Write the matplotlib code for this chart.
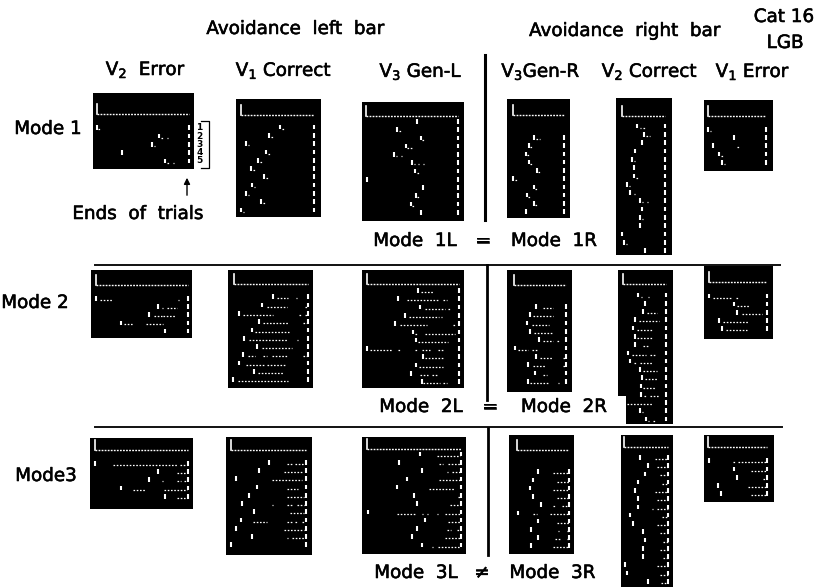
import matplotlib
matplotlib.use('Agg')
import matplotlib.pyplot as plt
import matplotlib.patheffects as pe
from matplotlib.patches import Rectangle

plt.rcParams['font.family'] = ['DejaVu Sans']
plt.rcParams['mathtext.fontset'] = 'dejavusans'
plt.rcParams['mathtext.default'] = 'regular'

W, H = 823, 587

# onset = response latency per trial, runs = later responses (start, end) per trial
m1_v2err_onset = [0, 62, 55, 25, 68]
m1_v2err_runs = [[(1, 3)], [(64, 66), (70, 71)], [(57, 58)], [], [(70, 73), (76, 77)]]
m1_v1cor_onset = [39.3, 28.7, 5.3, 25.3, 17.7, 10.3, 23.3, 11, 5, 20.3, 0]
m1_v1cor_runs = [[(41, 43)], [(30, 32)], [(7, 8)], [(27, 29)], [(19, 21)], [(12, 14)],
                 [(25, 27)], [(13, 14)], [(7, 8)], [(22, 24)], [(2, 3)]]
m1_v3l_onset = [51.3, 31.3, 54.7, 39.7, 28.3, 46.3, 49.3, 0.7, 57.3, 49.7, 44.7, 55]
m1_v3l_runs = [[], [(33, 35)], [(56, 58)], [(41, 46)], [(30, 31), (35, 36)],
               [(48, 49), (52, 53), (57, 58)], [(51, 53)], [], [], [(51, 53)], [(46, 48)], []]
m1_v3r_onset = [20.7, 15.4, 12.7, 15.7, 23.4, 0, 20.7, 13.4, 20.7, 12.7]
m1_v3r_runs = [[(23, 27)], [(17, 19)], [(14, 16)], [(17, 19)], [(25, 27)], [(2, 4)],
               [(22, 25)], [(15, 17)], [(22, 25)], []]
m1_v2cor_onset = [15, 22.3, 20.6, 13, 10.3, 12.6, 12.6, 5.3, 8, 18, 20.6, 18.6, 18.3, 0.3, 2.6, 23.3]
m1_v2cor_runs = [[(18, 19), (21, 23)], [(24, 28)], [], [], [(12, 13)], [], [(14, 17)], [(7, 8)],
                 [(12, 13)], [(20, 21), (25, 26)], [], [(20, 21)], [], [], [(4, 5)], []]
m1_v1err_onset = [0.6, 26.3, 5, 11.3, 14]
m1_v1err_runs = [[(2, 3)], [], [(29, 32)], [(13, 15)], [(16, 17)]]

m2_v2err_onset = [0, 62, 53.7, 25.7, 69.3]
m2_v2err_runs = [[(4, 17), (82, 83)], [(66, 67.7), (71.7, 81)], [(58.3, 66), (67.7, 80.3)],
                 [(28.3, 37), (50.3, 67.7)], []]
m2_v1cor_onset = [38.3, 28, 4.7, 25, 17.7, 9.7, 23, 9, 4.3, 19.3, -1]
m2_v1cor_runs = [[(42.3, 54), (61.7, 62.3)], [(32.3, 52.3), (70.7, 72.3)],
                 [(9, 39), (65, 66.3), (70.7, 72.3)], [(29, 54), (68.3, 72.3)], [(20.7, 55)],
                 [(14.7, 54), (63, 64)], [(27.3, 57.3)],
                 [(14, 20.7), (29, 32.3), (37.3, 54), (68.3, 72.3)],
                 [(11.7, 30.7), (32.3, 50.7)], [(24, 49.7)], [(4, 54)]]
m2_v3l_onset = [51, 31, 53.7, 38.3, 28.3, 46, 49.3, 0, 56.7, 49.3, 44.3, 55]
m2_v3l_runs = [[(54.3, 66.7)], [(40, 71.7), (76.7, 80)], [(58.3, 78.3), (81.7, 83.3)],
               [(42.3, 72), (74, 75)], [(33.3, 60), (86.7, 88.3)], [(48.3, 51.7), (58.3, 88.3)],
               [(51.7, 81.7)], [(3.3, 25), (31.7, 33.3), (48.3, 51.7), (55, 63.3), (71.7, 76.7)],
               [(58.3, 76.7)], [(52.7, 76.7)], [(53.3, 61.7), (65, 70.7)], [(56.7, 73.3), (76.7, 80)]]
m2_v3r_onset = [21.7, 16, 13.3, 16, 24.7, 1, 22, 14.3, 21.3, 13.7]
m2_v3r_runs = [[(29.3, 39.3)], [(19.3, 39.3)], [(17.7, 35.3)], [(20.3, 39.3)],
               [(28.7, 39.3), (43.3, 44.7)], [(4.3, 14.3), (17.7, 24.3)], [(26, 39.3), (49.3, 52)],
               [(18.7, 32), (49.3, 52)], [(28.7, 32.7)], [(16, 34.3), (44.3, 45.3)]]
m2_v2cor_onset = [15, 22.3, 20, 12.3, 10, 12.3, 12.3, 5.3, 7.3, 17.3, 19.7, 18, 18, 1, 17.3, 23]
m2_v2cor_runs = [[(18, 19.3), (25, 26.7)], [], [(24, 34)], [(16.7, 36.7)], [(14.7, 29)], [(14.7, 30)],
                 [(20.7, 26.7)], [(9, 23.3), (27.3, 32.3)], [(11.3, 13.3), (17.3, 30.7)],
                 [(20.7, 34)], [(22.3, 35.7)], [(20.7, 32.3)], [(21.3, 24), (27.3, 36.7)],
                 [(4, 30.7)], [(19, 20)], [(25.7, 26.7), (30.7, 32.3)]]
m2_v1err_onset = [0.3, 25.3, 28.3, 10, 12.7]
m2_v1err_runs = [[(4.3, 22.7), (27, 28.7)], [(27.7, 41)], [(32.7, 52.7)], [(13.7, 39.3)], [(17, 38.3)]]

m3_v2err_onset = [0.3, 62.7, 54.3, 26.3, 69.7]
m3_v2err_runs = [[(18.3, 83.3), (85, 92.3)], [(82.3, 92.3)], [(66.7, 67.7), (81.7, 86), (89, 92.3)],
                 [(38.3, 50), (69, 92.3)], [(81.7, 92.3)]]
m3_v1cor_onset = [38.7, 28.7, 5, 26, 18.3, 11, 23.7, 10.3, 5.3, 21, 0]
m3_v1cor_runs = [[(56, 61), (64.3, 73.3)], [(53.3, 71)], [(41, 71)], [(56, 67.7)], [(56, 73.3)],
                 [(41, 42), (56, 62.7), (66, 73.3)], [(59.3, 73.3)],
                 [(22.7, 36.7), (56, 61), (64.3, 66), (71, 73.3)], [(53.3, 73.3)],
                 [(56, 57.7), (61, 73.3)], []]
m3_v3l_onset = [52.7, 31.7, 55, 39.3, 29.3, 47, 50, 1, 57.7, 50, 44.3, 55]
m3_v3l_runs = [[(69.3, 92.7)], [(72, 75.3), (81, 92.7)], [(79.3, 81), (84.3, 92.7)], [(72, 92.7)],
               [(62, 87.7)], [(91, 92.7)], [(82.7, 92.7)],
               [(29.3, 47.7), (54.3, 56), (59.3, 61), (69.3, 71), (77.7, 92.7)], [(81, 92.7)],
               [(80, 83.3), (90, 92.7)], [(77.7, 92.7)], [(64.3, 66), (71, 92.7)]]
m3_v3r_onset = [21.7, 16, 13.3, 16, 24.3, 1.7, 21.7, 14, 21.7, 14]
m3_v3r_runs = [[(36, 52.3)], [(40.7, 52.3)], [(36.7, 52.3)], [(40, 52.3)], [(36.7, 38.3), (45, 52.3)],
               [(16.7, 20), (33.3, 52.3)], [(40, 52.3)], [(41.7, 42.7), (50.7, 52.3)],
               [(38.3, 43.3), (50, 52.3)], [(36.7, 52.3)]]
m3_v2cor_onset = [15.7, 23.3, 21, 13.3, 10.7, 13.3, 13.3, 5.7, 8.3, 18.7, 21, 18.7, 19, 0.7, 3, 23.3]
m3_v2cor_runs = [[(30.7, 44)], [(33, 44)], [(35.7, 44)], [(37.3, 44)], [(30.7, 44)], [(32.3, 44)],
                 [(27.3, 29), (32.3, 44)], [(37.3, 44)], [(32.3, 44)], [(35.7, 44)], [(38.3, 44)],
                 [(35.7, 44)], [(39, 44)], [(32.3, 44)], [(35.7, 44)], [(36.3, 44)]]
m3_v1err_onset = [0.3, 26, 28.7, 10, 12.7]
m3_v1err_runs = [[(25, 26.7), (30, 58.3)], [(42.3, 58.3)], [(55, 58.3)], [(40, 58.3)], [(42.3, 58.3)]]

fig = plt.figure(figsize=(W / 100, H / 100), dpi=100, facecolor='white')

bg = fig.add_axes([0, 0, 1, 1])
bg.set_xlim(0, W)
bg.set_ylim(H, 0)
bg.axis('off')


def draw_panel(onset, runs, left, top, right, bottom, lx, base, first, last, end):
    ax = fig.add_axes([left / W, 1 - bottom / H, (right - left) / W, (bottom - top) / H])
    ax.set_facecolor('black')
    ax.set_xticks([])
    ax.set_yticks([])
    for s in ax.spines.values():
        s.set_visible(False)
    n = len(onset)
    dy = (last - first) / (n - 1)
    ax.set_xlim(left - lx, right - lx)
    ax.set_ylim((bottom - first) / dy + 1, (top - first) / dy + 1)
    trials = list(range(1, n + 1))
    base_t = (base - first) / dy + 1
    ax.vlines(onset, [t - 0.28 for t in trials], [t + 0.28 for t in trials], color='white', lw=1.5)
    ax.vlines([end] * n, [t - 0.28 for t in trials], [t + 0.28 for t in trials], color='white', lw=1.5)
    for t, row in zip(trials, runs):
        for a, b in row:
            ax.plot([a, b], [t + 0.2, t + 0.2], color='white', lw=0.9, ls=(0, (1.3, 1.3)))
    # stimulus mark: bracket and dotted time base at the top of each panel
    ax.plot([0, 0], [base_t - 10 / dy, base_t], color='white', lw=1.2)
    ax.plot([0, end], [base_t, base_t], color='white', lw=1.0, ls=(0, (1.3, 0.9)))


draw_panel(m1_v2err_onset, m1_v2err_runs, 93, 93, 194, 169, 97, 114, 127.7, 161, 91.7)
draw_panel(m1_v1cor_onset, m1_v1cor_runs, 236, 99, 321, 217, 240.7, 114.7, 127, 210, 73.7)
draw_panel(m1_v3l_onset, m1_v3l_runs, 362, 102, 464, 221, 366, 116, 121.3, 212.3, 92.3)
draw_panel(m1_v3r_onset, m1_v3r_runs, 507, 99, 570, 218, 513.3, 115.3, 137.3, 211.7, 50.7)
draw_panel(m1_v2cor_onset, m1_v2cor_runs, 616, 98, 672, 255, 621.7, 116, 126, 250.7, 43)
draw_panel(m1_v1err_onset, m1_v1err_runs, 704, 100, 773, 171, 707.7, 116, 129.3, 162.3, 58.3)

draw_panel(m2_v2err_onset, m2_v2err_runs, 91, 270, 192, 338, 95.7, 285, 298.3, 331, 92)
draw_panel(m2_v1cor_onset, m2_v1cor_runs, 228, 270, 313, 388, 234.3, 284.3, 296.7, 379.7, 73.7)
draw_panel(m2_v3l_onset, m2_v3l_runs, 362, 270, 464, 388, 366.7, 284.3, 290.3, 381.7, 92.3)
draw_panel(m2_v3r_onset, m2_v3r_runs, 507, 270, 572, 392, 514, 285, 306.3, 381.3, 52)
draw_panel(m2_v2cor_onset, m2_v2cor_runs, 618, 270, 673, 424, 622.7, 284.3, 295, 419, 43)
draw_panel(m2_v1err_onset, m2_v1err_runs, 704, 266, 773, 339, 709, 282.3, 296, 328.7, 58.3)

draw_panel(m3_v2err_onset, m3_v2err_runs, 90, 438, 193, 509, 95, 450, 463.3, 496.3, 93.3)
draw_panel(m3_v1cor_onset, m3_v1cor_runs, 226, 437, 312, 555, 230.7, 450, 462.3, 544.7, 75.3)
draw_panel(m3_v3l_onset, m3_v3l_runs, 362, 437, 466, 554, 367.3, 449.3, 454, 545, 93.3)
draw_panel(m3_v3r_onset, m3_v3r_runs, 509, 435, 574, 554, 516.7, 450, 471.7, 545.7, 52.3)
draw_panel(m3_v2cor_onset, m3_v2cor_runs, 621, 435, 673, 587, 624.3, 446.7, 457.3, 581.3, 44)
draw_panel(m3_v1err_onset, m3_v1err_runs, 704, 435, 774, 502, 708.3, 446.7, 460.7, 493.7, 58.4)

# the Mode 2 V2 Correct strip is stepped at its lower left corner
fig.add_artist(Rectangle((617 / W, 1 - 425 / H), 9 / W, 29 / H, transform=fig.transFigure,
                         facecolor='white', edgecolor='none', zorder=5))

fs = 13.2
labels = [
    ('Avoidance  left  bar', 295.5, 29), ('Avoidance  right  bar', 625, 31),
    ('Cat 16', 784, 17), ('LGB', 785, 43),
    ('V$_2$  Error', 146, 70), ('V$_1$ Correct', 284, 71), ('V$_3$ Gen-L', 421, 72),
    ('V$_3$Gen-R', 541, 72), ('V$_2$ Correct', 650, 72), ('V$_1$ Error', 753, 72),
    ('Mode 1', 48, 129), ('Mode 2', 35, 303), ('Mode3', 46, 476),
    ('Ends  of  trials', 138, 214),
    ('Mode  1L', 415, 241), ('=', 483, 241), ('Mode  1R', 554, 241),
    ('Mode  2L', 421, 407), ('=', 490, 407), ('Mode  2R', 564, 407),
    ('Mode  3L', 416, 573), ('≠', 482, 573), ('Mode  3R', 552.5, 573),
]
heavy = [pe.withStroke(linewidth=0.4, foreground='black')]
for txt, x, y in labels:
    bg.text(x, y, txt, fontsize=fs, ha='center', va='center', color='black', path_effects=heavy)

# dividers
bg.plot([95, 780], [265, 265], color='#111111', lw=1.4)
bg.plot([95, 782], [427, 427], color='#111111', lw=1.4)
bg.plot([485, 485], [55, 220], color='black', lw=2.2)
bg.plot([487, 487], [265, 400], color='black', lw=2.0)
bg.plot([488, 488], [428, 555], color='black', lw=2.0)

# trial numbers and arrow beside the first panel
for i, n in enumerate(['1', '2', '3', '4', '5']):
    bg.text(199.5, 128 + i * 8.2, n, fontsize=6.5, fontweight='bold', ha='center', va='center')
bg.plot([201, 209, 209, 201], [121, 121, 168, 168], color='black', lw=0.9)
bg.annotate('', xy=(187, 175), xytext=(187, 198),
            arrowprops=dict(arrowstyle='-|>', color='black', lw=1.0, mutation_scale=9))

fig.savefig('out.png', dpi=100)
